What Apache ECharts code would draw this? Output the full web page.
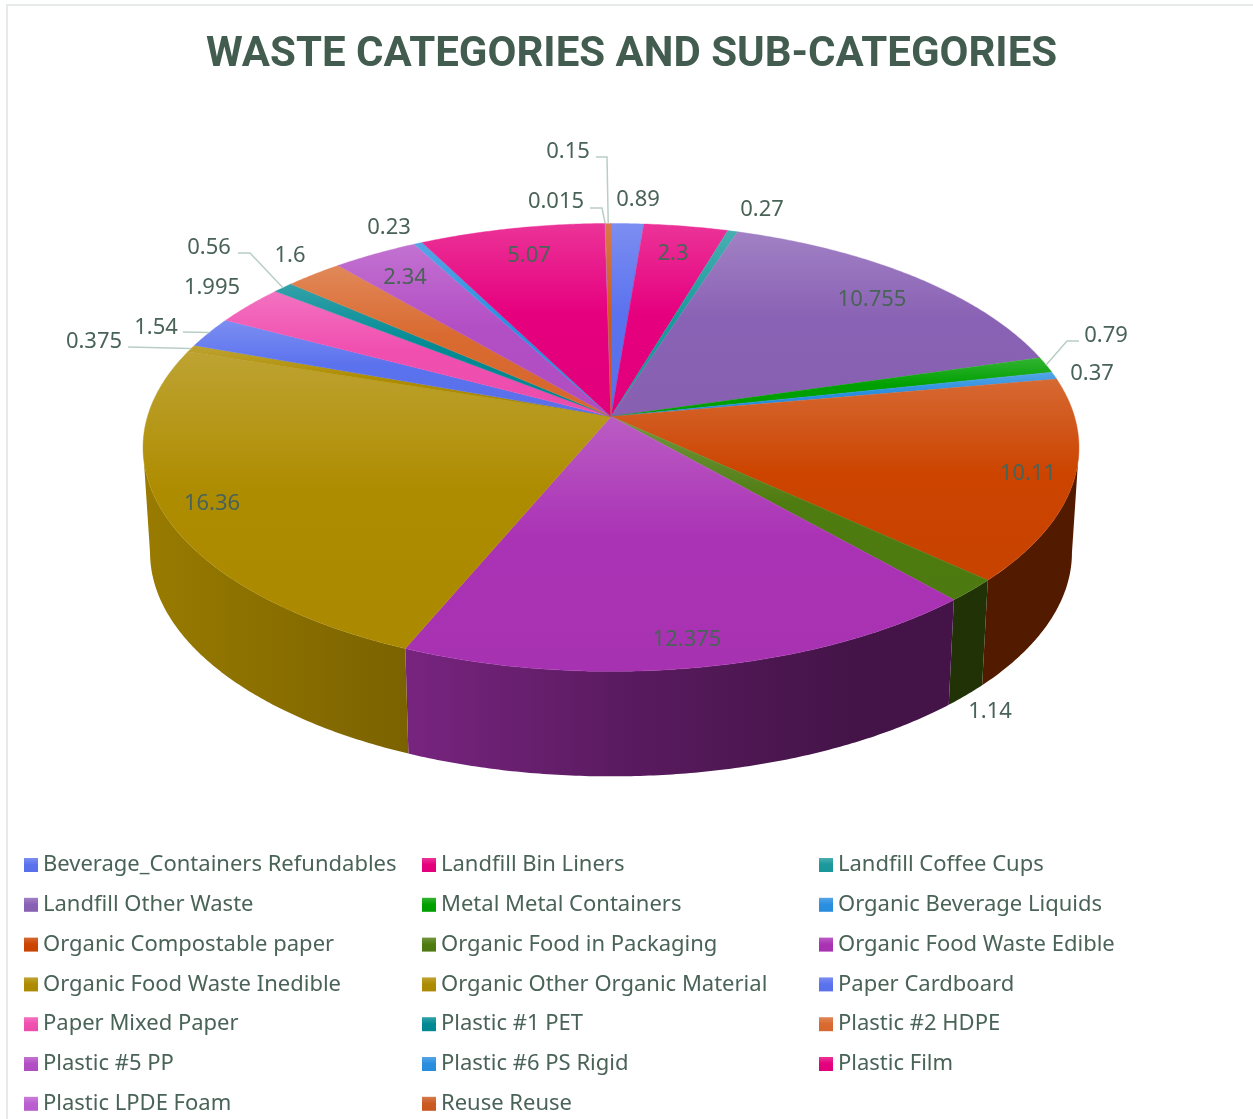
<!DOCTYPE html>
<html>
<head>
<meta charset="utf-8">
<style>
html, body { margin: 0; padding: 0; background: #fff; }
#main { width: 1253px; height: 1119px; }
</style>
<script src="https://cdn.jsdelivr.net/npm/echarts@6/dist/echarts.min.js"></script>
</head>
<body>
<div id="main"></div>
<script>
var categories = ['Beverage_Containers Refundables', 'Landfill Bin Liners', 'Landfill Coffee Cups',
	'Landfill Other Waste', 'Metal Metal Containers', 'Organic Beverage Liquids',
	'Organic Compostable paper', 'Organic Food in Packaging', 'Organic Food Waste Edible',
	'Organic Food Waste Inedible', 'Organic Other Organic Material', 'Paper Cardboard',
	'Paper Mixed Paper', 'Plastic #1 PET', 'Plastic #2 HDPE',
	'Plastic #5 PP', 'Plastic #6 PS Rigid', 'Plastic Film',
	'Plastic LPDE Foam', 'Reuse Reuse'];
var values = [0.89, 2.3, 0.27, 10.755, 0.79, 0.37, 10.11, 1.14, 12.375, 16.36,
	0.375, 1.54, 1.995, 0.56, 1.6, 2.34, 0.23, 5.07, 0.015, 0.15];
var valueLabels = ['0.89', '2.3', '0.27', '10.755', '0.79', '0.37', '10.11', '1.14', '12.375', '16.36',
	'0.375', '1.54', '1.995', '0.56', '1.6', '2.34', '0.23', '5.07', '0.015', '0.15'];
var colors = ['#5b72ee', '#e6007e', '#1a9a9c', '#8a62b5', '#00a000', '#2a8fe0', '#cc4400', '#4f7c10', '#aa33b5', '#ae8c00',
	'#ae8c00', '#5b72ee', '#f04fb0', '#008a94', '#d96a30', '#b34fc5', '#2a8fe0', '#e6007e', '#bb5fd0', '#cc5a20'];

// where the labels sit (center of the text), same order as values
var labelPos = [[638, 200], [673, 254], [762, 210], [872, 300], [1106, 336], [1092, 374], [1028, 474], [990, 712], [687, 640], [212, 504],
	[94, 342], [156, 328], [212, 288], [209, 248], [290, 256], [405, 278], [389, 228], [529, 256], [556, 202], [568, 152]];
// leader line elbows, the last point is taken from the slice edge
var leaders = {
	4 : [[1079, 341], [1067, 341]],
	10 : [[128, 347]],
	11 : [[183, 332]],
	13 : [[238, 253], [250, 253]],
	18 : [[590, 208], [602, 208]],
	19 : [[596, 157], [607, 157]]
};

var textColor = '#4a6358';
var leaderColor = '#b9cec5';
var labelFont = '"Noto Sans", sans-serif';

// perspective of the pie, fitted on the picture
var cx = 611, cy = 416.5, A = 463.5, B = 219.7, P = 0.138;
var depth = 105, bottomScale = 0.985;
var sideFrom = 98, sideTo = 262;

var total = 0;
var starts = [];
values.forEach(function(v) {
	starts.push(total);
	total += v;
});

function project(deg, bottom) {
	var r = deg * Math.PI / 180;
	var u = Math.sin(r), v = -Math.cos(r);
	var w = 1 - P * v;
	var x = A * u / w, y = B * v / w;
	if (bottom) {
		return [cx + x * bottomScale, cy + y + depth];
	}
	return [cx + x, cy + y];
}

function arc(from, to, bottom) {
	var pts = [];
	var n = Math.max(2, Math.ceil((to - from) * 2));
	for (var i = 0; i <= n; i++) {
		pts.push(project(from + (to - from) * i / n, bottom));
	}
	return pts;
}

function mix(hex, other, t) {
	var c = echarts.color.parse(hex), o = echarts.color.parse(other);
	return 'rgb(' + [0, 1, 2].map(function(i) {
		return Math.round(c[i] + (o[i] - c[i]) * t);
	}).join(',') + ')';
}

function faceGradient(hex) {
	return new echarts.graphic.LinearGradient(0, 0, 0, 1, [
		{ offset : 0, color : mix(hex, '#ffffff', 0.2) },
		{ offset : 0.47, color : hex },
		{ offset : 1, color : mix(hex, '#000000', 0.02) }
	]);
}

// side wall gets darker going right, across the whole pie
function wallGradient(hex) {
	var g = new echarts.graphic.LinearGradient(143, 0, 1080, 0, [
		{ offset : 0, color : mix(hex, '#000000', 0.12) },
		{ offset : 0.285, color : mix(hex, '#000000', 0.30) },
		{ offset : 0.51, color : mix(hex, '#000000', 0.47) },
		{ offset : 0.755, color : mix(hex, '#000000', 0.60) },
		{ offset : 1, color : mix(hex, '#000000', 0.60) }
	], true);
	return g;
}

function renderSlice(params, api) {
	var i = params.seriesIndex;
	var from = starts[i] / total * 360;
	var to = from + api.value(0) / total * 360;
	var mid = (from + to) / 2;
	var children = [];

	var a = Math.max(from, sideFrom), b = Math.min(to, sideTo);
	if (b > a) {
		var top = arc(a, b, false), low = arc(a, b, true).reverse();
		children.push({
			type : 'polygon',
			z2 : 1,
			shape : { points : top.concat(low) },
			style : { fill : wallGradient(colors[i]) }
		});
	}

	var fill = faceGradient(colors[i]);
	children.push({
		type : 'polygon',
		z2 : 10,
		shape : { points : [[cx, cy]].concat(arc(from, to, false)) },
		style : { fill : fill, stroke : fill, lineWidth : 0.4 }
	});

	if (leaders[i]) {
		children.push({
			type : 'polyline',
			z2 : 15,
			shape : { points : leaders[i].concat([project(mid, false)]) },
			style : { fill : null, stroke : leaderColor, lineWidth : 1.5 }
		});
	}

	children.push({
		type : 'text',
		z2 : 20,
		x : labelPos[i][0],
		y : labelPos[i][1],
		style : {
			text : valueLabels[i],
			fill : textColor,
			font : '22px ' + labelFont,
			align : 'center',
			verticalAlign : 'middle'
		}
	});

	return { type : 'group', children : children };
}

var chart = echarts.init(document.getElementById('main'));

var legendBase = {
	orient : 'vertical',
	top : 853,
	padding : 0,
	itemWidth : 14,
	itemHeight : 14,
	itemGap : 15.8,
	icon : 'rect',
	selectedMode : false,
	textStyle : {
		color : textColor,
		fontFamily : labelFont,
		fontSize : 22,
		lineHeight : 24,
		padding : 0
	}
};

function legendColumn(left, offset) {
	var names = categories.filter(function(c, i) {
		return i % 3 == offset;
	});
	return Object.assign({}, legendBase, { left : left, data : names });
}

chart.setOption({
	animation : false,
	backgroundColor : '#fff',
	title : {
		text : 'WASTE CATEGORIES AND SUB-CATEGORIES',
		left : 206,
		top : 34,
		padding : 0,
		textStyle : {
			color : '#435c50',
			fontFamily : 'Roboto, sans-serif',
			fontWeight : 'bold',
			fontSize : 42
		}
	},
	legend : [legendColumn(24, 0), legendColumn(422, 1), legendColumn(819, 2)],
	graphic : [{
		type : 'rect',
		silent : true,
		z : -1,
		shape : { x : 7, y : 5, width : 1400, height : 1300 },
		style : { fill : '#fff', stroke : '#e6ebe9', lineWidth : 2 }
	}],
	series : categories.map(function(name, i) {
		return {
			type : 'custom',
			name : name,
			coordinateSystem : 'none',
			silent : true,
			clip : false,
			itemStyle : { color : faceGradient(colors[i]) },
			renderItem : renderSlice,
			data : [[values[i]]]
		};
	})
});
</script>
</body>
</html>
